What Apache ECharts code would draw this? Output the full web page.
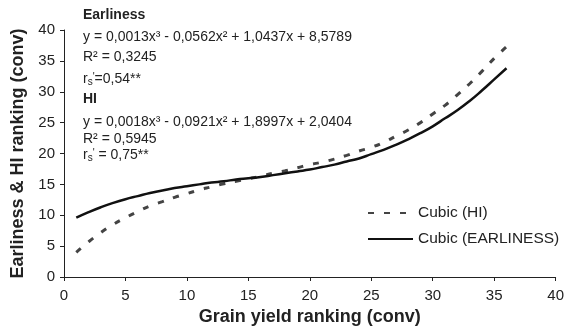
<!DOCTYPE html>
<html>
<head>
<meta charset="utf-8">
<script src="https://cdn.jsdelivr.net/npm/echarts@6/dist/echarts.min.js"></script>
<style>
  html, body { margin: 0; padding: 0; background: #fff; }
  #chart { width: 567px; height: 336px; }
</style>
</head>
<body>
<div id="chart"></div>
<script>
// grain yield ranking (x)
var rankX = [1, 2, 3, 4, 5, 6, 7, 8, 9, 10, 11, 12, 13, 14, 15, 16, 17, 18,
  19, 20, 21, 22, 23, 24, 25, 26, 27, 28, 29, 30, 31, 32, 33, 34, 35, 36];
// fitted cubic, HI
var hiVals = [4.0, 5.7, 7.2, 8.5, 9.6, 10.6, 11.5, 12.2, 12.9, 13.5, 14.1, 14.6,
  15.1, 15.5, 15.9, 16.3, 16.8, 17.2, 17.7, 18.2, 18.6, 19.1, 19.7, 20.4,
  21.0, 21.8, 22.8, 23.8, 25.0, 26.4, 27.8, 29.5, 31.3, 33.3, 35.4, 37.3];
// fitted cubic, earliness
var earlVals = [9.6, 10.5, 11.3, 12.0, 12.6, 13.1, 13.6, 14.0, 14.4, 14.7, 15.0, 15.3,
  15.5, 15.8, 16.0, 16.2, 16.5, 16.8, 17.1, 17.4, 17.8, 18.2, 18.7, 19.2,
  19.9, 20.6, 21.4, 22.3, 23.3, 24.4, 25.7, 27.0, 28.5, 30.2, 32.0, 33.8];
var seriesNames = ['Cubic (HI)', 'Cubic (EARLINESS)'];

var FONT = 'Liberation Sans, Arial, Helvetica, sans-serif';

function pairs(vals) {
  return rankX.map(function (x, i) { return [x, vals[i]]; });
}

var chart = echarts.init(document.getElementById('chart'));

var txt = function (y, text, bold, rich) {
  return {
    type: 'text',
    x: 83,
    y: y,
    style: {
      text: text,
      font: (bold ? 'bold ' : '') + '14px ' + FONT,
      fill: '#222',
      verticalAlign: 'middle',
      rich: rich
    }
  };
};
var richRs = {
  n: { fontSize: 14, fontFamily: FONT, color: '#222' },
  s: { fontSize: 10, fontFamily: FONT, color: '#222', padding: [6, 0, 0, 0] },
  p: { fontSize: 10, fontFamily: FONT, color: '#222', padding: [0, 0, 4, 0] }
};

var option = {
  animation: false,
  textStyle: { fontFamily: FONT },
  grid: { left: 64, right: 8, top: 30, bottom: 59 },
  legend: {
    orient: 'vertical',
    left: 367,
    top: 205,
    padding: 0,
    itemWidth: 45,
    itemHeight: 16,
    itemGap: 10,
    itemStyle: { opacity: 0 },
    textStyle: { fontSize: 15.5, color: '#222', fontFamily: FONT },
    data: seriesNames
  },
  xAxis: {
    type: 'value',
    min: 0, max: 40, interval: 5,
    name: 'Grain yield ranking (conv)',
    nameLocation: 'middle',
    nameGap: 26,
    nameTextStyle: { fontSize: 18, fontWeight: 'bold', color: '#222' },
    axisLine: { lineStyle: { color: '#222', width: 1 } },
    axisTick: { show: true, length: 4, lineStyle: { color: '#222' } },
    axisLabel: { fontSize: 15, color: '#222', margin: 11 },
    splitLine: { show: false }
  },
  yAxis: {
    type: 'value',
    min: 0, max: 40, interval: 5,
    name: 'Earliness & HI ranking (conv)',
    nameLocation: 'middle',
    nameGap: 36,
    nameTextStyle: { fontSize: 18, fontWeight: 'bold', color: '#222' },
    axisLine: { show: true, lineStyle: { color: '#222', width: 1 } },
    axisTick: { show: true, length: 4, lineStyle: { color: '#222' } },
    axisLabel: { fontSize: 15, color: '#222', margin: 9 },
    splitLine: { show: false }
  },
  series: [
    {
      name: seriesNames[0],
      type: 'line',
      smooth: true,
      symbol: 'none',
      lineStyle: { color: '#444', width: 3, type: [6, 10] },
      itemStyle: { color: '#444' },
      data: pairs(hiVals)
    },
    {
      name: seriesNames[1],
      type: 'line',
      smooth: true,
      symbol: 'none',
      lineStyle: { color: '#111', width: 2.5, type: 'solid' },
      itemStyle: { color: '#111' },
      data: pairs(earlVals)
    }
  ],
  graphic: [
    txt(15, 'Earliness', true),
    txt(37, 'y = 0,0013x³ - 0,0562x² + 1,0437x + 8,5789'),
    txt(57, 'R² = 0,3245'),
    txt(79, '{n|r}{s|s}{p|\'}{n|=0,54**}', false, richRs),
    txt(99, 'HI', true),
    txt(122, 'y = 0,0018x³ - 0,0921x² + 1,8997x + 2,0404'),
    txt(139, 'R² = 0,5945'),
    txt(155, '{n|r}{s|s}{p|\'}{n| = 0,75**}', false, richRs)
  ]
};

chart.setOption(option);
</script>
</body>
</html>
